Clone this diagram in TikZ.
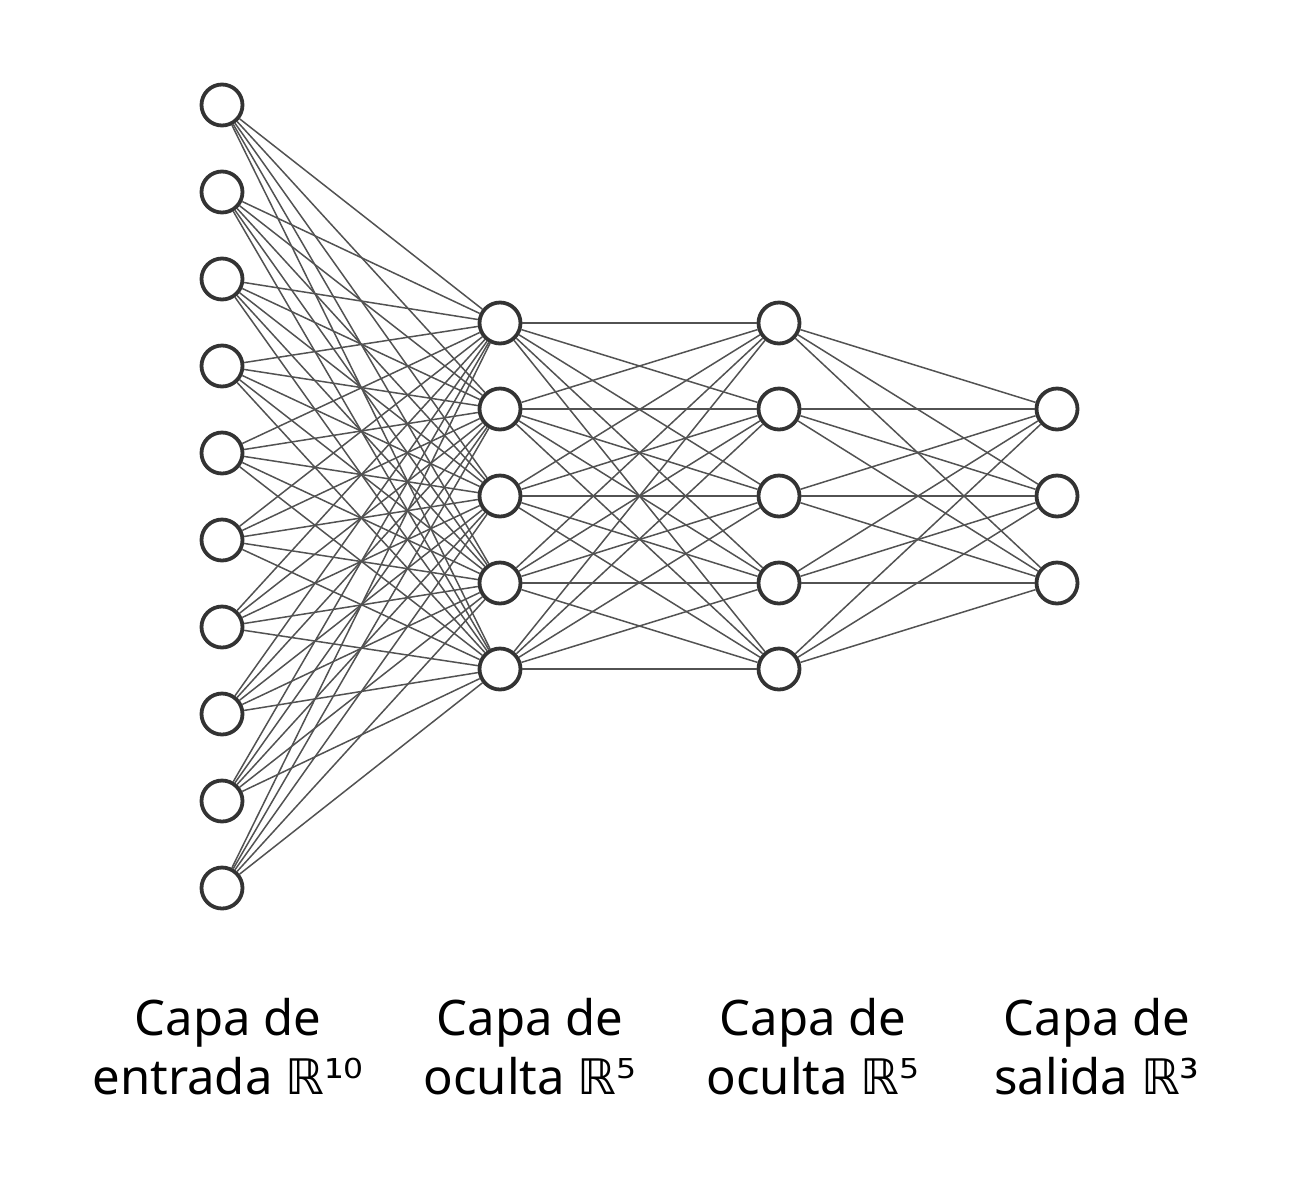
\documentclass[tikz,border=0pt]{standalone}
\usepackage{fontspec}
\setmainfont{Noto Sans}
\newfontfamily\symfont{DejaVu Sans}
\begin{document}
\begin{tikzpicture}[x=1pt,y=-1pt,
  neuron/.style={circle,draw=black!80,line width=3.8pt,fill=white,minimum size=41pt,inner sep=0pt},
  conn/.style={draw=black!68,line width=1.5pt},
  lbl/.style={align=center,font=\fontsize{49}{59}\selectfont,text=black,anchor=north}]
\useasboundingbox (0,0) rectangle (1316,1200);
\foreach \i in {1,...,10} \node[neuron] (a\i) at (222,{105+(\i-1)*87}) {};
\foreach \i/\y in {1/323,2/409,3/496,4/583,5/669} {
  \node[neuron] (b\i) at (500,\y) {};
  \node[neuron] (c\i) at (779,\y) {};
}
\foreach \i/\y in {1/409,2/496,3/583} \node[neuron] (d\i) at (1057,\y) {};
\foreach \i in {1,...,10} \foreach \j in {1,...,5} \draw[conn] (a\i) -- (b\j);
\foreach \i in {1,...,5} \foreach \j in {1,...,5} \draw[conn] (b\i) -- (c\j);
\foreach \i in {1,...,5} \foreach \j in {1,...,3} \draw[conn] (c\i) -- (d\j);
\node[lbl] (l1) at (228,995) {Capa de\\entrada {\symfont ℝ¹⁰}};
\node[lbl] (l2) at (530,995) {Capa de\\oculta {\symfont ℝ⁵}};
\node[lbl] (l3) at (813,995) {Capa de\\oculta {\symfont ℝ⁵}};
\node[lbl] (l4) at (1097,995) {Capa de\\salida {\symfont ℝ³}};
\end{tikzpicture}
\end{document}
